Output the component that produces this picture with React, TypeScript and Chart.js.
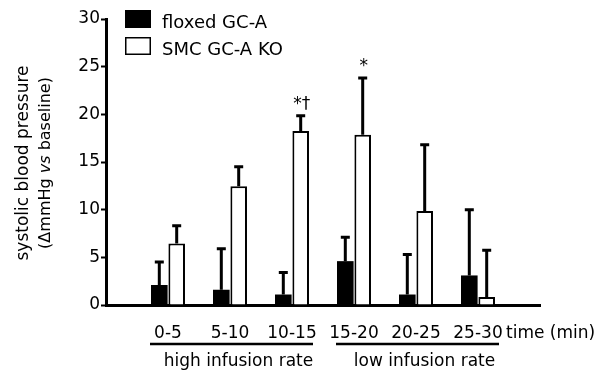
import React, { useEffect, useRef } from 'react';
import { Chart, registerables } from 'chart.js';

Chart.register(...registerables);

// ---- data ----
const categories = ['', '0-5', '5-10', '10-15', '15-20', '20-25', '25-30', ''];
const seriesLabels = ['floxed GC-A', 'SMC GC-A KO'];
const floxedMeans = [null, 2.1, 1.6, 1.1, 4.6, 1.1, 3.1, null];
const floxedErrors = [null, 2.4, 4.3, 2.3, 2.5, 4.2, 6.9, null];
const koMeans = [null, 6.45, 12.45, 18.25, 17.85, 9.85, 0.85, null];
const koErrors = [null, 1.85, 2.05, 1.6, 5.95, 6.95, 4.9, null];
const koMarks = ['', '', '', '*†', '*', '', '', ''];
const yTickMin = 0;
const yTickMax = 30;
const yTickStep = 5;
const groupLabels = ['high infusion rate', 'low infusion rate'];
const groupFirst = [1, 4];
const groupLast = [3, 6];
const xUnitLabel = 'time (min)';
const yTitleLine1 = 'systolic blood pressure';
const yTitleLine2 = ['(ΔmmHg ', 'vs', ' baseline)'];
const yTitleLine2Italic = [false, true, false];

const FONT = 'DejaVu Sans';

const errorBarPlugin = {
  id: 'errorBars',
  afterDatasetsDraw(chart: any) {
    const ctx = chart.ctx;
    const y = chart.scales.y;
    chart.data.datasets.forEach((ds: any, i: number) => {
      const meta = chart.getDatasetMeta(i);
      meta.data.forEach((el: any, j: number) => {
        const v = ds.data[j];
        if (v == null) return;
        const top = y.getPixelForValue(v + ds.errors[j]);
        ctx.save();
        ctx.strokeStyle = '#000';
        ctx.lineWidth = 3;
        ctx.beginPath();
        ctx.moveTo(el.x, el.y);
        ctx.lineTo(el.x, top);
        ctx.moveTo(el.x - 4.5, top);
        ctx.lineTo(el.x + 4.5, top);
        ctx.stroke();
        const mark = ds.marks ? ds.marks[j] : '';
        if (mark) {
          ctx.fillStyle = '#000';
          ctx.font = `17px "${FONT}"`;
          ctx.textAlign = 'center';
          ctx.textBaseline = 'alphabetic';
          ctx.fillText(mark, el.x + 1, top - 7);
        }
        ctx.restore();
      });
    });
  },
};

const decorPlugin = {
  id: 'decor',
  afterDraw(chart: any) {
    const ctx = chart.ctx;
    const x = chart.scales.x;
    ctx.save();
    ctx.fillStyle = '#000';
    ctx.strokeStyle = '#000';

    // legend
    chart.data.datasets.forEach((ds: any, i: number) => {
      const bx = 125;
      const by = 10 + i * 27;
      ctx.fillStyle = ds.backgroundColor;
      ctx.fillRect(bx, by, 26, 18);
      if (ds.borderWidth) {
        ctx.lineWidth = 1.5;
        ctx.strokeStyle = '#000';
        ctx.strokeRect(bx + 0.75, by + 0.75, 24.5, 16.5);
      }
      ctx.fillStyle = '#000';
      ctx.font = `18px "${FONT}"`;
      ctx.textAlign = 'left';
      ctx.textBaseline = 'alphabetic';
      ctx.fillText(ds.label, 162, by + 18);
    });

    // unit label right of ticks
    ctx.font = `17px "${FONT}"`;
    ctx.textAlign = 'left';
    ctx.textBaseline = 'middle';
    ctx.fillText(xUnitLabel, x.getPixelForValue(6) + 28, x.top + 18 + 10.2);

    // group lines & labels
    groupLabels.forEach((lab, g) => {
      const p1 = x.getPixelForValue(groupFirst[g]);
      const p2 = x.getPixelForValue(groupLast[g]);
      const c = (p1 + p2) / 2 + 1.5;
      const half = (p2 - p1) / 2 + 81.5 - 62;
      ctx.lineWidth = 2.5;
      ctx.beginPath();
      ctx.moveTo(c - half, 344);
      ctx.lineTo(c + half, 344);
      ctx.stroke();
      ctx.textAlign = 'center';
      ctx.textBaseline = 'alphabetic';
      ctx.fillText(lab, c + 7, 366);
    });

    // y title
    const cy = 163;
    ctx.save();
    ctx.translate(28, cy);
    ctx.rotate(-Math.PI / 2);
    ctx.font = `17px "${FONT}"`;
    ctx.textAlign = 'center';
    ctx.textBaseline = 'alphabetic';
    ctx.fillText(yTitleLine1, 0, 0);
    ctx.restore();

    ctx.save();
    ctx.translate(50, cy);
    ctx.rotate(-Math.PI / 2);
    ctx.textAlign = 'left';
    ctx.textBaseline = 'alphabetic';
    const fonts = yTitleLine2.map((_, k) => `${yTitleLine2Italic[k] ? 'italic ' : ''}16px "${FONT}"`);
    let total = 0;
    yTitleLine2.forEach((s, k) => { ctx.font = fonts[k]; total += ctx.measureText(s).width; });
    let pos = -total / 2;
    yTitleLine2.forEach((s, k) => {
      ctx.font = fonts[k];
      ctx.fillText(s, pos, 0);
      pos += ctx.measureText(s).width;
    });
    ctx.restore();

    ctx.restore();
  },
};

export default function App() {
  const ref = useRef<HTMLCanvasElement>(null);
  useEffect(() => {
    if (!ref.current) return;
    const chart = new Chart(ref.current, {
      type: 'bar',
      data: {
        labels: categories,
        datasets: [
          {
            label: seriesLabels[0],
            data: floxedMeans as any,
            errors: floxedErrors,
            backgroundColor: '#000',
            borderColor: '#000',
            borderWidth: 0,
          } as any,
          {
            label: seriesLabels[1],
            data: koMeans as any,
            errors: koErrors,
            marks: koMarks,
            backgroundColor: '#fff',
            borderColor: '#000',
            borderWidth: 2,
          } as any,
        ],
      },
      options: {
        responsive: false,
        animation: false,
        categoryPercentage: 0.561,
        barPercentage: 0.954,
        layout: { padding: { top: 19, right: 66, bottom: 0, left: 0 } },
        plugins: { legend: { display: false }, tooltip: { enabled: false } },
        scales: {
          x: {
            offset: false,
            grid: { display: false, drawTicks: false },
            border: { display: true, width: 3, color: '#000' },
            ticks: {
              color: '#000',
              font: { family: FONT, size: 17 },
              padding: 18,
              maxRotation: 0,
              autoSkip: false,
            },
            afterFit: (s: any) => { s.height = 66; },
          },
          y: {
            min: yTickMin,
            max: yTickMax,
            grid: { display: true, drawOnChartArea: false, drawTicks: true, tickLength: 5, tickWidth: 2, tickColor: '#000' },
            border: { display: true, width: 3, color: '#000' },
            ticks: {
              stepSize: yTickStep,
              color: '#000',
              font: { family: FONT, size: 17 },
              padding: 1,
            },
            afterFit: (s: any) => { s.width = 106; },
          },
        },
      } as any,
      plugins: [errorBarPlugin, decorPlugin],
    });
    return () => chart.destroy();
  }, []);
  return (
    <div style={{ position: 'fixed', left: 0, top: 0, width: 606, height: 371, background: '#fff' }}>
      <canvas ref={ref} width={606} height={371} style={{ display: 'block' }} />
    </div>
  );
}
